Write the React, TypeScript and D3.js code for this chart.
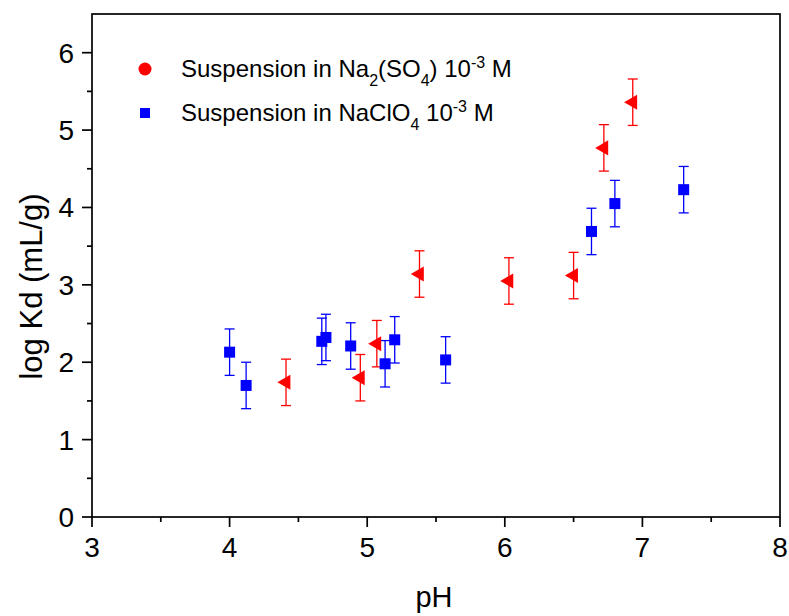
import React from "react";
import * as d3 from "d3";

const sulfatePH = [4.41, 4.95, 5.07, 5.38, 6.03, 6.5, 6.72, 6.93];
const sulfateLogKd = [1.74, 1.8, 2.24, 3.14, 3.05, 3.12, 4.77, 5.36];
const sulfateErr = [0.3, 0.3, 0.3, 0.3, 0.3, 0.3, 0.3, 0.3];

const perchloratePH = [4.0, 4.12, 4.67, 4.7, 4.88, 5.13, 5.2, 5.57, 6.63, 6.8, 7.3];
const perchlorateLogKd = [2.13, 1.7, 2.27, 2.32, 2.21, 1.98, 2.29, 2.03, 3.69, 4.05, 4.23];
const perchlorateErr = [0.3, 0.3, 0.3, 0.3, 0.3, 0.3, 0.3, 0.3, 0.3, 0.3, 0.3];

const xTicks = [3, 4, 5, 6, 7, 8];
const yTicks = [0, 1, 2, 3, 4, 5, 6];
const xMinor = [3.5, 4.5, 5.5, 6.5, 7.5];
const yMinor = [0.5, 1.5, 2.5, 3.5, 4.5, 5.5];

const W = 789;
const H = 616;
const left = 92;
const right = 780;
const top = 14;
const bottom = 517;

export default function App() {
  const x = d3.scaleLinear().domain([3, 8]).range([left, right]);
  const y = d3.scaleLinear().domain([0, 6.5]).range([bottom, top]);
  const tri = d3.symbol().type(d3.symbolTriangle).size(98)()!;
  const font = "'Liberation Sans', Arial, sans-serif";
  const red = "#ff0000";
  const blue = "#0000ff";
  const cap = 5;

  const errBar = (px: number, v: number, e: number, color: string, key: string) => (
    <g key={key} stroke={color} strokeWidth={1.3} fill="none">
      <line x1={x(px)} x2={x(px)} y1={y(v - e)} y2={y(v + e)} />
      <line x1={x(px) - cap} x2={x(px) + cap} y1={y(v + e)} y2={y(v + e)} />
      <line x1={x(px) - cap} x2={x(px) + cap} y1={y(v - e)} y2={y(v - e)} />
    </g>
  );

  return (
    <svg width={W} height={H} style={{ position: "absolute", left: 0, top: 0, background: "#fff" }} fontFamily={font}>
      <rect width={W} height={H} fill="#fff" />
      {/* frame */}
      <rect x={left} y={top} width={right - left} height={bottom - top} fill="none" stroke="#000" strokeWidth={1.7} />
      {/* x ticks */}
      {xTicks.map((t) => (
        <g key={"xt" + t}>
          <line x1={x(t)} x2={x(t)} y1={bottom} y2={bottom + 10} stroke="#000" strokeWidth={1.7} />
          <text x={x(t)} y={557} fontSize={28} textAnchor="middle" fill="#000">{t}</text>
        </g>
      ))}
      {xMinor.map((t) => (
        <line key={"xm" + t} x1={x(t)} x2={x(t)} y1={bottom} y2={bottom + 5} stroke="#000" strokeWidth={1.7} />
      ))}
      {yTicks.map((t) => (
        <g key={"yt" + t}>
          <line x1={left - 10} x2={left} y1={y(t)} y2={y(t)} stroke="#000" strokeWidth={1.7} />
          <text x={left - 18} y={y(t) + 10} fontSize={28} textAnchor="end" fill="#000">{t}</text>
        </g>
      ))}
      {yMinor.map((t) => (
        <line key={"ym" + t} x1={left - 5} x2={left} y1={y(t)} y2={y(t)} stroke="#000" strokeWidth={1.7} />
      ))}
      <text x={434} y={607} fontSize={29} textAnchor="middle" fill="#000">pH</text>
      <text transform={`translate(42, 286.5) rotate(-90)`} fontSize={31} textAnchor="middle" fill="#000">log Kd (mL/g)</text>

      {/* error bars */}
      {perchloratePH.map((p, i) => errBar(p, perchlorateLogKd[i], perchlorateErr[i], blue, "be" + i))}
      {sulfatePH.map((p, i) => errBar(p, sulfateLogKd[i], sulfateErr[i], red, "re" + i))}

      {/* markers */}
      {perchloratePH.map((p, i) => (
        <rect key={"bs" + i} x={x(p) - 5.5} y={y(perchlorateLogKd[i]) - 5.5} width={11} height={11} fill={blue} />
      ))}
      {sulfatePH.map((p, i) => (
        <path key={"rt" + i} d={tri} transform={`translate(${x(p)}, ${y(sulfateLogKd[i])}) rotate(-90)`} fill={red} />
      ))}

      {/* legend */}
      <circle cx={145} cy={69} r={6.5} fill={red} />
      <text x={181} y={77} fontSize={24} fill="#000">
        Suspension in Na<tspan fontSize={16} dy={9}>2</tspan>
        <tspan dy={-9}>(SO</tspan><tspan fontSize={16} dy={9}>4</tspan>
        <tspan dy={-9}>) 10</tspan><tspan fontSize={16} dy={-9}>-3</tspan>
        <tspan dy={9}> M</tspan>
      </text>
      <rect x={140} y={108} width={10} height={10} fill={blue} />
      <text x={181} y={121} fontSize={24} fill="#000">
        Suspension in NaClO<tspan fontSize={16} dy={9}>4</tspan>
        <tspan dy={-9}> 10</tspan><tspan fontSize={16} dy={-9}>-3</tspan>
        <tspan dy={9}> M</tspan>
      </text>
    </svg>
  );
}
